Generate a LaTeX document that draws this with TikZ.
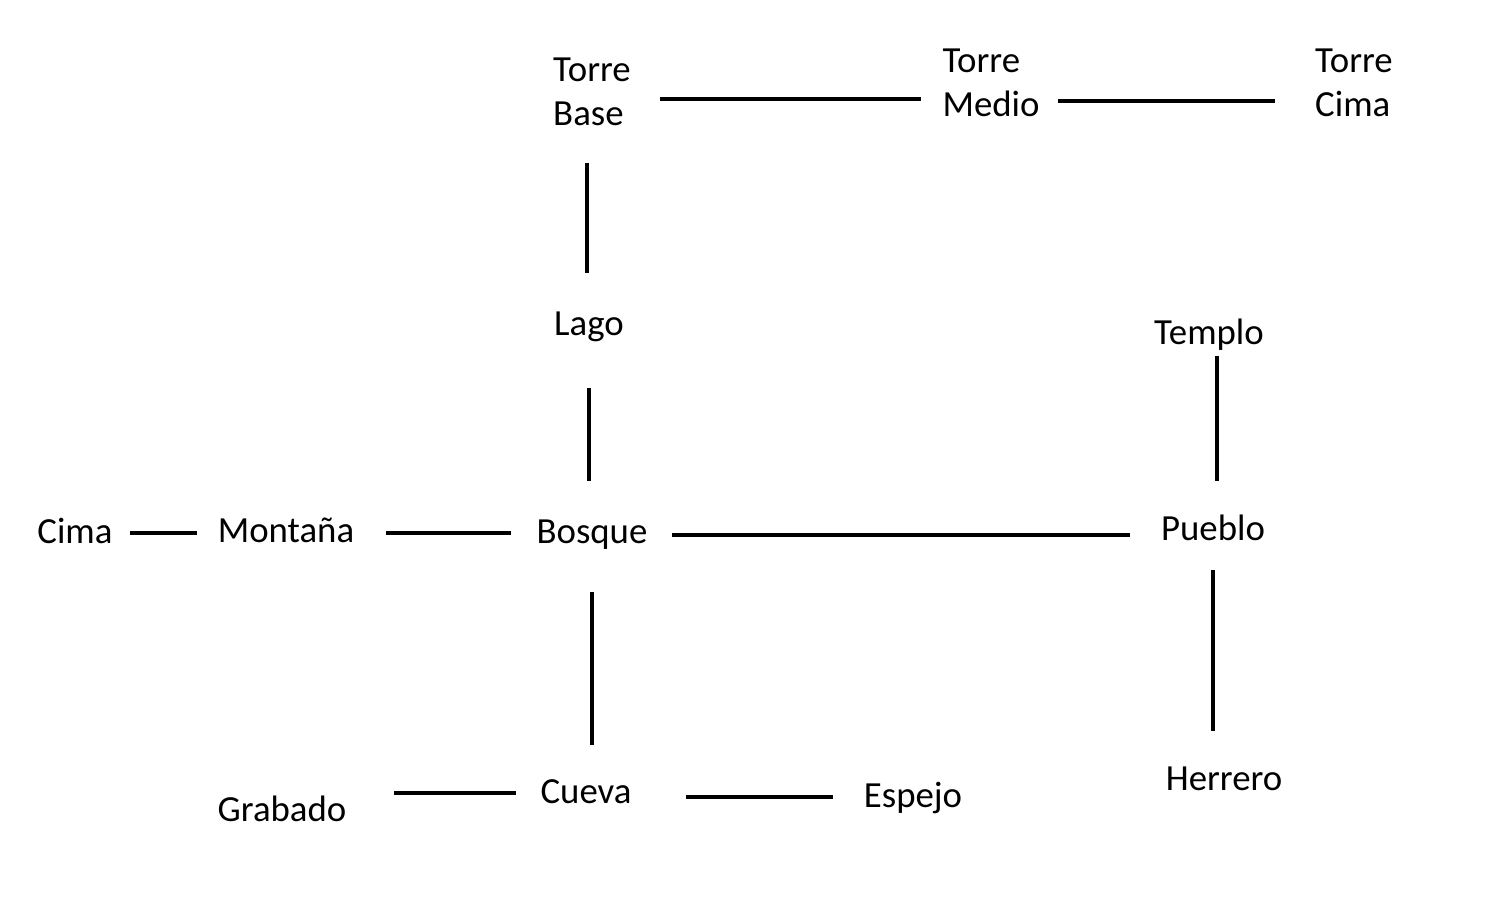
\documentclass[tikz,border=0pt]{standalone}
\usepackage{fontspec}
\setmainfont{Carlito}
\usetikzlibrary{calc}

\begin{document}
\begin{tikzpicture}[
  x = 0.5pt, y = -0.5pt,
  every node/.style = {font=\fontsize{18.4pt}{22pt}\selectfont},
  place/.style = {inner sep=0pt, align=left},
  link/.style  = {line width=2pt, draw=black}
]
\useasboundingbox (0,0) rectangle (1486,908);

% ---- places -------------------------------------------------------------
\node[place, at={(592,92)}]   (tbase)   {Torre\\Base};
\node[place, at={(991,83)}]   (tmedio)  {Torre\\Medio};
\node[place, at={(1354,83)}]  (tcima)   {Torre\\Cima};
\node[place, at={(589,327)}]  (lago)    {Lago};
\node[place, at={(1209,335)}] (templo)  {Templo};
\node[place, at={(75,531)}]   (cima)    {Cima};
\node[place, at={(286,530)}]  (montana) {Montaña};
\node[place, at={(592,535)}]  (bosque)  {Bosque};
\node[place, at={(1213,528)}] (pueblo)  {Pueblo};
\node[place, at={(282,809)}]  (grabado) {Grabado};
\node[place, at={(586,792)}]  (cueva)   {Cueva};
\node[place, at={(913,798)}]  (espejo)  {Espejo};
\node[place, at={(1224,779)}] (herrero) {Herrero};

% ---- tower ----------------------------------------------------------------
\draw[link, shorten <=34pt, shorten >=35pt]
  ([yshift=-3.5pt]tbase.center) -- ([yshift=-3.5pt]tbase.center -| tmedio.center);
\draw[link, shorten <=33.5pt, shorten >=39.5pt]
  ([yshift=-9pt]tmedio.center) -- ([yshift=-9pt]tmedio.center -| tcima.center);
\draw[link, shorten <=35.5pt, shorten >=27pt]
  ([xshift=-2.5pt]tbase.center) -- ([xshift=-2.5pt]tbase.center |- lago.center);

% ---- middle row -----------------------------------------------------------
\draw[link, shorten <=30.5pt, shorten >=27pt]
  (lago.center) -- (lago.center |- bosque.center);
\draw[link, shorten <=10.5pt, shorten >=23.5pt]
  ([xshift=4pt]templo.center) -- ([xshift=4pt]templo.center |- pueblo.center);
\draw[link, shorten <=27.5pt, shorten >=44.5pt]
  ([yshift=-1pt]cima.center) -- ([yshift=-1pt]cima.center -| montana.center);
\draw[link, shorten <=50pt, shorten >=40.5pt]
  ([yshift=-1.5pt]montana.center) -- ([yshift=-1.5pt]montana.center -| bosque.center);
\draw[link, shorten <=40pt, shorten >=41.5pt]
  (bosque.center) -- (bosque.center -| pueblo.center);

% ---- bottom row -----------------------------------------------------------
\draw[link, shorten <=28.5pt, shorten >=23.5pt]
  (bosque.center) -- (bosque.center |- cueva.center);
\draw[link, shorten <=21pt, shorten >=24pt]
  (pueblo.center) -- (pueblo.center |- herrero.center);
\draw[link, shorten <=56pt, shorten >=35pt]
  ([yshift=8pt]grabado.center) -- ([yshift=8pt]grabado.center -| cueva.center);
\draw[link, shorten <=50pt, shorten >=40pt]
  ([yshift=-2.5pt]cueva.center) -- ([yshift=-2.5pt]cueva.center -| espejo.center);

\end{tikzpicture}
\end{document}
